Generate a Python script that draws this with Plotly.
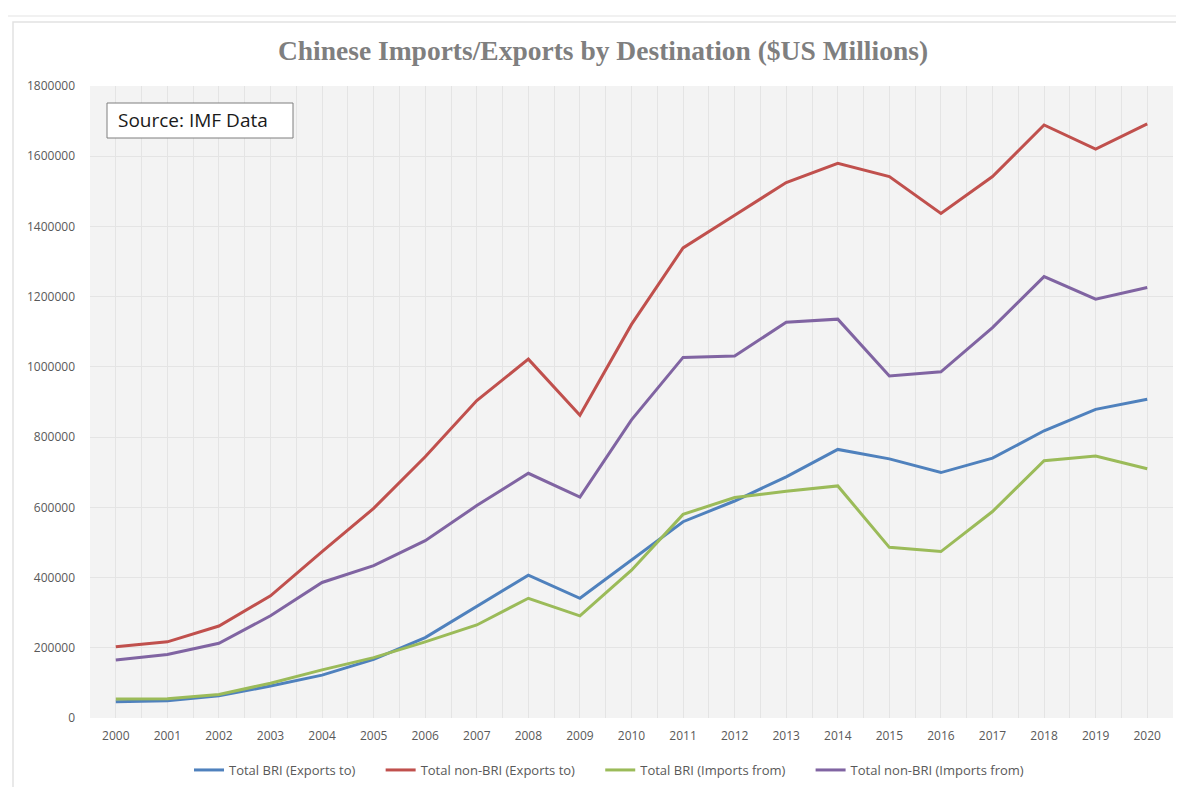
import plotly.graph_objects as go

years = list(range(2000, 2021))
bri_exports = [46000, 49000, 63000, 91000, 122000, 167000, 229000, 317000, 407000, 341000,
               450000, 559000, 618000, 687000, 765000, 738000, 699000, 740000, 818000, 879000, 908000]
nonbri_exports = [203000, 217000, 262000, 348000, 474000, 597000, 744000, 904000, 1022000, 862000,
                  1121000, 1339000, 1432000, 1525000, 1580000, 1542000, 1437000, 1542000, 1689000, 1620000, 1692000]
bri_imports = [54000, 55000, 67000, 99000, 137000, 172000, 217000, 265000, 341000, 291000,
               421000, 580000, 628000, 646000, 661000, 486000, 474000, 588000, 733000, 746000, 710000]
nonbri_imports = [165000, 181000, 213000, 291000, 386000, 434000, 505000, 605000, 697000, 629000,
                  849000, 1027000, 1031000, 1127000, 1136000, 974000, 986000, 1112000, 1257000, 1193000, 1226000]

series_names = ["Total BRI (Exports to)", "Total non-BRI (Exports to)",
                "Total BRI (Imports from)", "Total non-BRI (Imports from)"]
series_values = [bri_exports, nonbri_exports, bri_imports, nonbri_imports]
series_colors = ["#4F81BD", "#C0504D", "#9BBB59", "#8064A2"]

gap = "\u00a0" * 6  # spacing between legend entries
fig = go.Figure()
for i, (name, vals, col) in enumerate(zip(series_names, series_values, series_colors)):
    label = name + (gap if i < len(series_names) - 1 else "")
    fig.add_trace(go.Scatter(x=years, y=vals, mode="lines", name=label,
                             line=dict(color=col, width=3)))

grid_col = "#e4e4e4"
tick_font = dict(family="Open Sans, sans-serif", size=12, color="#595959")

# page offset of 8px (body margin) is compensated in the margins
fig.update_layout(
    width=1184, height=787,
    margin=dict(l=82, r=19, t=78, b=77),
    paper_bgcolor="white",
    plot_bgcolor="#f3f3f3",
    title=dict(text="<b>Chinese Imports/Exports by Destination ($US Millions)</b>",
               font=dict(family="Liberation Serif, DejaVu Serif, serif", size=27.5, color="#7f7f7f"),
               x=(603 - 8) / 1184, xanchor="center", y=1 - (50 - 8) / 787, yanchor="middle",
               yref="container"),
    showlegend=True,
    legend=dict(orientation="h", x=(609 - 8) / 1184, xanchor="center", xref="container",
                y=1 - (770 - 8) / 787, yanchor="middle", yref="container",
                font=dict(family="Open Sans, sans-serif", size=13, color="#595959"),
                itemwidth=30, tracegroupgap=0,
                bgcolor="rgba(0,0,0,0)"),
    xaxis=dict(range=[1999.5, 2020.5], tickmode="array", tickvals=years,
               ticktext=[str(y) for y in years], showgrid=True, gridcolor=grid_col, gridwidth=1,
               minor=dict(dtick=0.5, tick0=1999.5, showgrid=True, gridcolor=grid_col, gridwidth=1),
               zeroline=False, showline=False, ticks="", tickfont=tick_font, ticklabelstandoff=9,
               automargin=False),
    yaxis=dict(range=[0, 1800000], dtick=200000, tickformat="d", showgrid=True,
               gridcolor=grid_col, gridwidth=1, zeroline=False, showline=False, ticks="",
               tickfont=tick_font, ticklabelstandoff=14, automargin=False),
)

# outer chart frame
fig.add_shape(type="rect", xref="paper", yref="paper",
              x0=(13 - 90) / 1083, x1=1.03, y0=-0.2, y1=1 + (86 - 22) / 632,
              line=dict(color="#e2e2e2", width=1.5), fillcolor="rgba(0,0,0,0)", layer="below")
fig.add_shape(type="line", xref="paper", yref="paper",
              x0=(0 - 90) / 1083, x1=1.03, y0=1 + (86 - 16) / 632, y1=1 + (86 - 16) / 632,
              line=dict(color="#ececec", width=1.5))

# source box
fig.add_shape(type="rect", xref="paper", yref="paper",
              x0=(107 - 90) / 1083, x1=(293 - 90) / 1083,
              y0=1 - (138 - 86) / 632, y1=1 - (103 - 86) / 632,
              line=dict(color="#7f7f7f", width=1), fillcolor="white")
fig.add_annotation(text="Source: IMF Data", xref="paper", yref="paper",
                   x=(116 - 90) / 1083, xanchor="left", y=1 - (120.5 - 86) / 632, yanchor="middle",
                   showarrow=False,
                   font=dict(family="Open Sans, sans-serif", size=19, color="#1a1a1a"))

fig.write_html("out.html")
